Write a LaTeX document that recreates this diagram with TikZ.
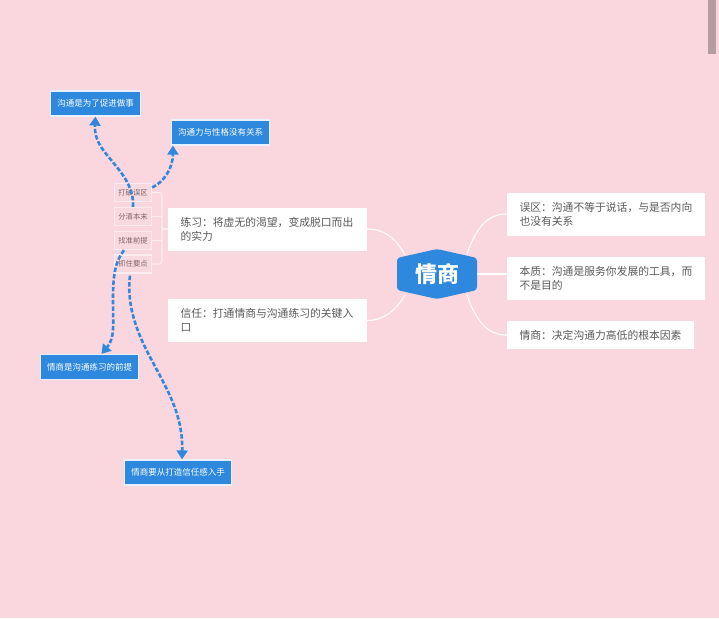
\documentclass[tikz,border=0pt]{standalone}
\usepackage{fontspec}
\setmainfont{Noto Sans CJK SC}
\usetikzlibrary{arrows.meta}
\definecolor{bgpink}{HTML}{FAD7DF}
\definecolor{mapblue}{HTML}{2E88DE}
\definecolor{smallpink}{HTML}{F8D9E0}
\definecolor{smallline}{HTML}{FCEBEF}
\definecolor{bodygrey}{HTML}{5A5A5A}
\definecolor{smallgrey}{HTML}{7F6468}
\definecolor{scrollgrey}{HTML}{B39CA2}
\tikzset{
  rootbox/.style={text=white,inner sep=0pt,minimum width=80pt,minimum height=50pt,font=\fontsize{22}{24}\selectfont\bfseries},
  bodybox/.style={fill=white,text=bodygrey,align=left,inner xsep=12.5pt,inner ysep=0pt,font=\fontsize{10.8}{14}\selectfont},
  smallbox/.style={fill=smallpink,draw=smallline,line width=1.3pt,text=smallgrey,inner sep=0pt,minimum width=37pt,minimum height=18pt,font=\fontsize{7.3}{9}\selectfont},
  notebox/.style={fill=mapblue,draw=white!88!mapblue,line width=1.2pt,text=white,inner sep=0pt,minimum height=25pt,font=\fontsize{8.5}{10}\selectfont},
  linkline/.style={white,line width=1.1pt},
  stubline/.style={smallline,line width=1.1pt,rounded corners=3pt},
  noteline/.style={mapblue,line width=2.6pt,dash pattern=on 4.5pt off 2pt,-{Triangle[width=11pt,length=9pt]}}
}
\begin{document}
\begin{tikzpicture}[x=1pt,y=-1pt]
      \fill[bgpink] (0,0) rectangle (719,618);
      \useasboundingbox (0,0) rectangle (719,618);
      \fill[scrollgrey] (708,0) rectangle (716,54);
      \fill[mapblue,rounded corners=3pt] (437,249) -- (477,258) -- (477,290) -- (437,299) -- (397,290) -- (397,258) -- cycle;
      \draw
        (437,274) node[rootbox] (root){情商}
        (606,214) node[bodybox,text width=173pt,minimum height=43pt] (wuqu){误区：沟通不等于说话，与是否内向\\也没有关系}
        (606,278) node[bodybox,text width=173pt,minimum height=43pt] (benzhi){本质：沟通是服务你发展的工具，而\\不是目的}
        (600.5,335) node[bodybox,text width=162pt,minimum height=28pt] (qingshang){情商：决定沟通力高低的根本因素}
        (267.5,229) node[bodybox,text width=174pt,minimum height=43pt] (lianxi){练习：将虚无的渴望，变成脱口而出\\的实力}
        (267.5,320.5) node[bodybox,text width=174pt,minimum height=43pt] (xinren){信任：打通情商与沟通练习的关键入\\口}
        (133,192.5) node[smallbox] (dapo){打破误区}
        (133,216.5) node[smallbox] (fenqing){分清本末}
        (133,240.5) node[smallbox] (zhaozhun){找准前提}
        (133,264) node[smallbox] (zhuazhu){抓住要点}
        (95.5,103.5) node[notebox,minimum width=90pt] (cushi){沟通是为了促进做事}
        (220.5,132.5) node[notebox,minimum width=98pt] (xingge){沟通力与性格没有关系}
        (89.5,367) node[notebox,minimum width=98pt] (qianti){情商是沟通练习的前提}
        (178,472.5) node[notebox,minimum width=107pt] (rushou){情商要从打造信任感入手};
      \coordinate (rootne) at (467,254);
      \coordinate (rootse) at (467,295);
      \coordinate (rootnw) at (405,255);
      \coordinate (rootsw) at (405,295);
      \coordinate (fork) at (162,229);
      \begin{scope}[linkline]
        \draw (rootne) .. controls (476,228) and (487,214) .. (wuqu.west);
        \draw (root.east) -- (benzhi.west |- root.east);
        \draw (rootse) .. controls (476,321) and (487,335) .. (qingshang.west);
        \draw (rootnw) .. controls (396,238) and (384,229) .. (lianxi.east);
        \draw (rootsw) .. controls (396,310) and (384,320.5) .. (xinren.east);
      \end{scope}
      \begin{scope}[stubline]
        \draw (dapo.east) -| (fork);
        \draw (zhuazhu.east) -| (fork);
        \draw (fenqing.east) -- (fenqing.east -| fork);
        \draw (zhaozhun.east) -- (zhaozhun.east -| fork);
        \draw (fork) -- (lianxi.west);
      \end{scope}
      \begin{scope}[noteline]
        \draw (fenqing.north) .. controls (134,190) and (125,177) .. (116,166) .. controls (104,151) and (94,142) .. (cushi.south);
        \draw ([yshift=5pt]dapo.east) .. controls (164,182) and (173,168) .. ([xshift=2pt]xingge.south west);
        \draw ([xshift=-9pt]zhaozhun.south) .. controls (115,262) and (113,275) .. (113,300) .. controls (113,325) and (115,338) .. ([xshift=12pt]qianti.north);
        \draw ([xshift=-3pt,yshift=-2pt]zhuazhu.south) .. controls (127,300) and (133,325) .. (150,357) .. controls (168,391) and (183,415) .. ([xshift=4pt]rushou.north);
      \end{scope}
    \end{tikzpicture}
\end{document}
